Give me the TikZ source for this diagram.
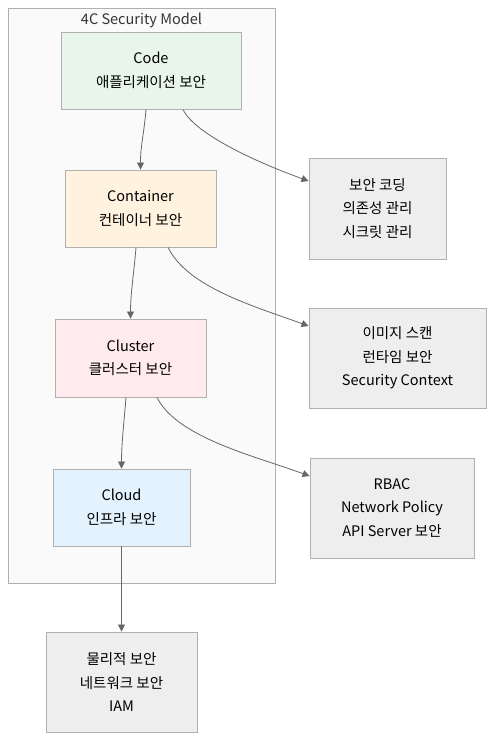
\documentclass[tikz,border=0pt]{standalone}
\usepackage{fontspec}
\setmainfont{Noto Sans CJK KR}
\usetikzlibrary{arrows.meta}
\definecolor{edgec}{HTML}{666666}
\definecolor{boxline}{HTML}{B0B0B0}
\tikzset{
  box/.style={draw=boxline, line width=0.9pt, align=center, inner sep=0pt,
    font=\fontsize{14.5pt}{23.5pt}\selectfont, text=black},
  conn/.style={draw=edgec, line width=0.8pt, -{Triangle[length=7pt,width=7pt]}},
}
\begin{document}
\begin{tikzpicture}[x=1pt,y=-1pt]
\useasboundingbox (0,0) rectangle (502,752);
\fill[white] (0,0) rectangle (502,752);
% cluster
\node[draw=boxline, fill={rgb,255:red,250;green,250;blue,250}, line width=0.9pt, minimum width=267pt, minimum height=575pt, inner sep=0pt, anchor=north west] (grp) at (8,8) {};
\node[font=\fontsize{14.5pt}{16pt}\selectfont, text={rgb,255:red,51;green,51;blue,51}] (title) at (141.5,20) {4C Security Model};
% inner boxes
\node[box, fill={rgb,255:red,232;green,245;blue,233}, minimum width=180pt, minimum height=77pt] (code) at (151,70.5) {Code\\애플리케이션 보안};
\node[box, fill={rgb,255:red,255;green,243;blue,224}, minimum width=151pt, minimum height=77pt] (cont) at (140.5,208.5) {Container\\컨테이너 보안};
\node[box, fill={rgb,255:red,255;green,235;blue,238}, minimum width=151pt, minimum height=78pt] (clus) at (130.5,358) {Cluster\\클러스터 보안};
\node[box, fill={rgb,255:red,227;green,242;blue,253}, minimum width=137pt, minimum height=77pt] (cloud) at (121.5,507.5) {Cloud\\인프라 보안};
% detail boxes
\node[box, fill={rgb,255:red,238;green,238;blue,238}, minimum width=137pt, minimum height=101pt] (d1) at (377.5,208.5) {보안 코딩\\의존성 관리\\시크릿 관리};
\node[box, fill={rgb,255:red,238;green,238;blue,238}, minimum width=177pt, minimum height=100pt] (d2) at (397.5,358) {이미지 스캔\\런타임 보안\\Security Context};
\node[box, fill={rgb,255:red,238;green,238;blue,238}, minimum width=164pt, minimum height=100pt] (d3) at (392,508) {RBAC\\Network Policy\\API Server 보안};
\node[box, fill={rgb,255:red,238;green,238;blue,238}, minimum width=151pt, minimum height=100pt] (d4) at (121.5,682) {물리적 보안\\네트워크 보안\\IAM};
% connectors
\draw[conn] ([xshift=-5pt]code.south) .. controls +(-2,25) and +(0,-25) .. (cont.north);
\draw[conn] ([xshift=32pt]code.south) .. controls +(12,25) and +(-50,-18) .. ([yshift=27.5pt]d1.west);
\draw[conn] ([xshift=-4.5pt]cont.south) .. controls +(-2,25) and +(0,-25) .. (clus.north);
\draw[conn] ([xshift=27.5pt]cont.south) .. controls +(20,40) and +(-55,-20) .. ([yshift=32pt]d2.west);
\draw[conn] ([xshift=-4.5pt]clus.south) .. controls +(-2,25) and +(0,-25) .. (cloud.north);
\draw[conn] ([xshift=26.5pt]clus.south) .. controls +(20,40) and +(-55,-20) .. ([yshift=32pt]d3.west);
\draw[conn] (cloud.south) -- (d4.north);
\end{tikzpicture}
\end{document}
